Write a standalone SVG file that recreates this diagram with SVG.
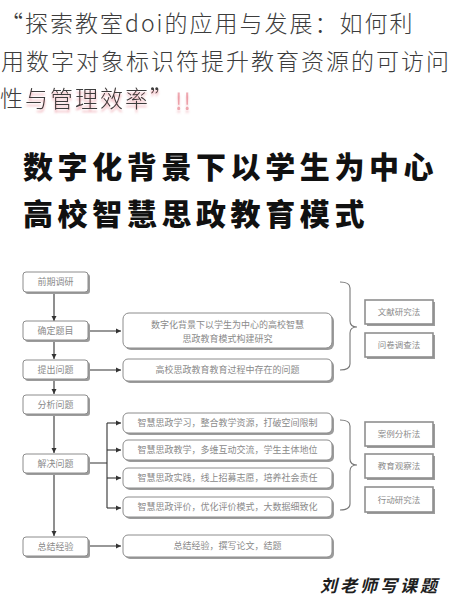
<svg xmlns="http://www.w3.org/2000/svg" width="459" height="600" viewBox="0 0 459 600">
<style>
.hd{font-family:"Noto Sans CJK SC","Noto Sans",sans-serif;font-weight:300;font-size:23px;letter-spacing:2px;fill:#3c3c3c}
.tt{font-family:"Noto Sans CJK SC",sans-serif;font-weight:900;font-size:30px;letter-spacing:4.6px;fill:#111}
.sh{fill:#9c9c9c}
.bx{fill:#fff;stroke:#8c8c8c;stroke-width:1}
.rb{fill:#fff;stroke:#8f8f8f;stroke-width:1.6}
.tx{font-family:"Noto Sans CJK SC",sans-serif;font-size:9px;fill:#8a8a8a;text-anchor:middle}
.tr{font-family:"Noto Sans CJK SC",sans-serif;font-size:8.5px;fill:#8a8a8a;text-anchor:middle}
.cn{fill:none;stroke:#333;stroke-width:1.1}
.br{fill:none;stroke:#777;stroke-width:1.1}
.wm{font-family:"Noto Sans CJK SC",sans-serif;font-weight:700;font-style:italic;font-size:17px;letter-spacing:3px;fill:#1e1e1e}
</style>
<defs>
<marker id="ar" markerWidth="6" markerHeight="6" refX="5" refY="3" orient="auto" markerUnits="userSpaceOnUse">
<path d="M0,0.5 L5,3 L0,5.5 Z" fill="#333"/>
</marker>
<filter id="pk" x="-10%" y="-30%" width="120%" height="160%">
<feDropShadow dx="0" dy="3" stdDeviation="0.8" flood-color="#e0606e" flood-opacity="0.55"/>
</filter>
</defs>
<rect width="459" height="600" fill="#fff"/>
<g id="header">
<text class="hd" x="0" y="32">“探索教室doi的应用与发展：如何利</text>
<text class="hd" x="1" y="70">用数字对象标识符提升教育资源的可访问</text>
<text class="hd" x="0" y="107">性</text>
<text class="hd" x="25" y="107" filter="url(#pk)">与管理效率”<tspan dy="3" style="fill:#e05a6a;fill-opacity:0.5;font-weight:400;letter-spacing:1px">!!</tspan></text>
</g>
<g id="title">
<text class="tt" x="23" y="178">数字化背景下以学生为中心</text>
<text class="tt" x="23" y="225">高校智慧思政教育模式</text>
</g>
<g id="connectors">
<path class="cn" d="M54,292 V321" marker-end="url(#ar)"/>
<path class="cn" d="M54,341 V359" marker-end="url(#ar)"/>
<path class="cn" d="M54,379 V394" marker-end="url(#ar)"/>
<path class="cn" d="M54,414 V453" marker-end="url(#ar)"/>
<path class="cn" d="M54,473 V536" marker-end="url(#ar)"/>
<path class="cn" d="M88,331 H121" marker-end="url(#ar)"/>
<path class="cn" d="M88,370 H121" marker-end="url(#ar)"/>
<path class="cn" d="M88,546 H121" marker-end="url(#ar)"/>
<path class="cn" d="M88,463 H107 M107,423 V508"/>
<path class="cn" d="M107,423 H121" marker-end="url(#ar)"/>
<path class="cn" d="M107,450 H121" marker-end="url(#ar)"/>
<path class="cn" d="M107,478 H121" marker-end="url(#ar)"/>
<path class="cn" d="M107,508 H121" marker-end="url(#ar)"/>
<path class="br" d="M340,282 Q350,282 350,288 V321 Q350,327 357,327 Q350,327 350,333 V364 Q350,370 340,370"/>
<path class="br" d="M340,420 Q350,420 350,426 V459 Q350,465 357,465 Q350,465 350,471 V504 Q350,510 340,510"/>
</g>
<g id="n1"><rect class="sh" x="25" y="274" width="65" height="20" rx="3"/><rect class="bx" x="23" y="272" width="65" height="20" rx="3"/><text class="tx" x="55.5" y="285">前期调研</text></g>
<g id="n2"><rect class="sh" x="25" y="323" width="65" height="19" rx="3"/><rect class="bx" x="23" y="321" width="65" height="19" rx="3"/><text class="tx" x="55.5" y="334">确定题目</text></g>
<g id="n3"><rect class="sh" x="25" y="362" width="65" height="19" rx="3"/><rect class="bx" x="23" y="360" width="65" height="19" rx="3"/><text class="tx" x="55.5" y="373">提出问题</text></g>
<g id="n4"><rect class="sh" x="25" y="397" width="65" height="19" rx="3"/><rect class="bx" x="23" y="395" width="65" height="19" rx="3"/><text class="tx" x="55.5" y="408">分析问题</text></g>
<g id="n5"><rect class="sh" x="25" y="456" width="65" height="19" rx="3"/><rect class="bx" x="23" y="454" width="65" height="19" rx="3"/><text class="tx" x="55.5" y="467">解决问题</text></g>
<g id="n6"><rect class="sh" x="25" y="539" width="65" height="19" rx="3"/><rect class="bx" x="23" y="537" width="65" height="19" rx="3"/><text class="tx" x="55.5" y="550">总结经验</text></g>
<g id="m1"><rect class="sh" x="125" y="315" width="209" height="35" rx="6"/><rect class="bx" x="123" y="313" width="209" height="35" rx="6"/><text class="tx" x="227.5" y="328">数字化背景下以学生为中心的高校智慧</text><text class="tx" x="227.5" y="342">思政教育模式构建研究</text></g>
<g id="m2"><rect class="sh" x="125" y="361" width="209" height="22" rx="5"/><rect class="bx" x="123" y="359" width="209" height="22" rx="5"/><text class="tx" x="227.5" y="373">高校思政教育教育过程中存在的问题</text></g>
<g id="m3"><rect class="sh" x="125" y="415" width="209" height="20" rx="5"/><rect class="bx" x="123" y="413" width="209" height="20" rx="5"/><text class="tx" x="227.5" y="426">智慧思政学习，整合教学资源，打破空间限制</text></g>
<g id="m4"><rect class="sh" x="125" y="442" width="209" height="20" rx="5"/><rect class="bx" x="123" y="440" width="209" height="20" rx="5"/><text class="tx" x="227.5" y="453">智慧思政教学，多维互动交流，学生主体地位</text></g>
<g id="m5"><rect class="sh" x="125" y="470" width="209" height="20" rx="5"/><rect class="bx" x="123" y="468" width="209" height="20" rx="5"/><text class="tx" x="227.5" y="481">智慧思政实践，线上招募志愿，培养社会责任</text></g>
<g id="m6"><rect class="sh" x="125" y="499" width="209" height="20" rx="5"/><rect class="bx" x="123" y="497" width="209" height="20" rx="5"/><text class="tx" x="227.5" y="510">智慧思政评价，优化评价模式，大数据细致化</text></g>
<g id="m7"><rect class="sh" x="125" y="537" width="209" height="22" rx="5"/><rect class="bx" x="123" y="535" width="209" height="22" rx="5"/><text class="tx" x="227.5" y="549">总结经验，撰写论文，结题</text></g>
<g id="r1"><rect class="sh" x="367" y="302" width="68" height="24"/><rect class="rb" x="365" y="300" width="68" height="24"/><text class="tr" x="399" y="315">文献研究法</text></g>
<g id="r2"><rect class="sh" x="367" y="335" width="68" height="24"/><rect class="rb" x="365" y="333" width="68" height="24"/><text class="tr" x="399" y="348">问卷调查法</text></g>
<g id="r3"><rect class="sh" x="367" y="424" width="68" height="24"/><rect class="rb" x="365" y="422" width="68" height="24"/><text class="tr" x="399" y="437">案例分析法</text></g>
<g id="r4"><rect class="sh" x="367" y="456" width="68" height="24"/><rect class="rb" x="365" y="454" width="68" height="24"/><text class="tr" x="399" y="469">教育观察法</text></g>
<g id="r5"><rect class="sh" x="367" y="489" width="68" height="25"/><rect class="rb" x="365" y="487" width="68" height="25"/><text class="tr" x="399" y="502.5">行动研究法</text></g>
<g id="watermark"><text class="wm" x="320" y="592">刘老师写课题</text></g>
</svg>
